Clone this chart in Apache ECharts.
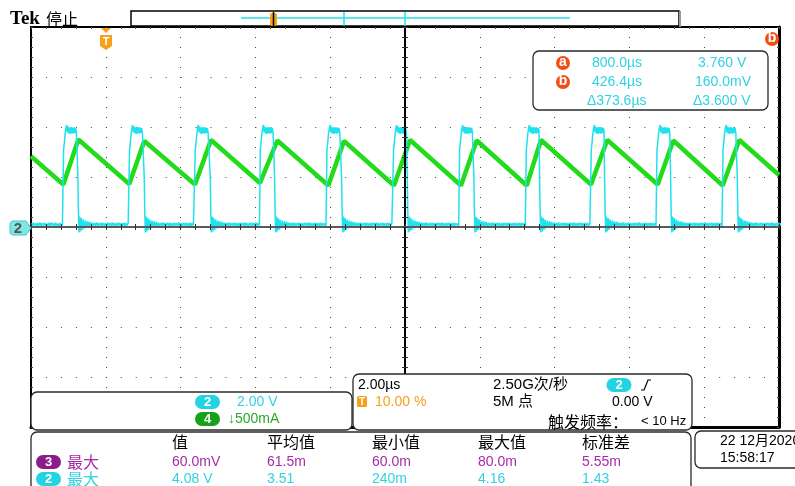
<!DOCTYPE html>
<html>
<head>
<meta charset="utf-8">
<script src="https://cdn.jsdelivr.net/npm/echarts@6/dist/echarts.min.js"></script>
<style>
html, body { margin: 0; padding: 0; background: #fff; }
#scope { width: 795px; height: 486px; }
</style>
</head>
<body>
<div id="scope"></div>
<script>
// horizontal: 10 div x 2.00 µs
const timeMin = 0
const timeMax = 20
// ch2 (2.00 V/div) switching edges, µs
const ch2Rise = [0.864, 2.628, 4.385, 6.123, 7.906, 9.687, 11.452, 13.235, 14.973, 16.730, 18.495]
const ch2Fall = [1.238, 3.013, 4.778, 6.497, 8.289, 10.045, 11.826, 13.583, 15.321, 17.086, 18.869]
// noisy low level before the first edge [µs, V]
const ch2Lead = [[0, 0.14], [0.03, 0.04], [0.06, 0.17], [0.09, 0.06], [0.12, 0.15], [0.15, 0.03], [0.18, 0.16],
  [0.21, 0.05], [0.24, 0.18], [0.27, 0.04], [0.3, 0.15], [0.33, 0.06], [0.36, 0.17], [0.39, 0.03], [0.42, 0.14],
  [0.45, 0.05], [0.48, 0.16], [0.51, 0.04], [0.54, 0.18], [0.57, 0.06], [0.6, 0.15], [0.63, 0.03], [0.66, 0.17],
  [0.69, 0.05], [0.72, 0.14], [0.75, 0.04], [0.78, 0.16], [0.81, 0.02], [0.84, 0.12]]
// pulse top, read from the first pulse [µs after rise, V]
const ch2RiseShape = [[0, 0.1], [0.008, 3.1], [0.03, 3.4], [0.05, 3.75], [0.07, 3.95], [0.09, 4.08], [0.11, 3.78],
  [0.13, 4.02], [0.15, 3.74], [0.17, 3.98], [0.19, 3.72], [0.21, 4.0], [0.23, 3.75], [0.25, 3.98], [0.27, 3.73],
  [0.29, 3.99], [0.31, 3.76], [0.33, 3.96], [0.35, 3.78]]
// fall + ringing + low level [µs after fall, V]
const ch2FallShape = [[0, 3.85], [0.015, 2.0], [0.03, 0.6], [0.045, -0.22], [0.065, 0.42], [0.085, -0.18],
  [0.11, 0.36], [0.135, -0.12], [0.16, 0.3], [0.19, -0.06], [0.22, 0.26], [0.25, -0.02], [0.28, 0.22], [0.31, 0.0],
  [0.34, 0.2], [0.37, 0.03], [0.4, 0.17], [0.43, 0.04], [0.46, 0.16], [0.49, 0.05], [0.52, 0.18], [0.55, 0.03],
  [0.58, 0.15], [0.61, 0.06], [0.64, 0.17], [0.67, 0.04], [0.7, 0.16], [0.73, 0.05], [0.76, 0.15], [0.79, 0.03],
  [0.82, 0.17], [0.85, 0.06], [0.88, 0.16], [0.91, 0.04], [0.94, 0.18], [0.97, 0.05], [1.0, 0.15], [1.03, 0.03],
  [1.06, 0.16], [1.09, 0.06], [1.12, 0.17], [1.15, 0.04], [1.18, 0.15], [1.21, 0.05], [1.24, 0.17], [1.27, 0.03],
  [1.3, 0.16], [1.33, 0.06], [1.36, 0.15], [1.39, 0.04], [1.42, 0.14]]
// ch4 (500 mA/div) inductor current corners
const ch4Time = [0, 0.864, 1.265, 2.628, 3.029, 4.385, 4.813, 6.123, 6.586, 7.95, 8.369, 9.706, 10.134, 11.497,
  11.917, 13.254, 13.636, 14.973, 15.409, 16.757, 17.174, 18.495, 18.939, 20]
const ch4Amp = [0.708, 0.425, 0.875, 0.43, 0.86, 0.425, 0.87, 0.44, 0.865, 0.415, 0.86, 0.415, 0.87, 0.415,
  0.865, 0.415, 0.87, 0.425, 0.87, 0.425, 0.865, 0.415, 0.87, 0.52]

const cyan = '#1fe2ee'
const cyanText = '#30d2e2'
const green = '#22dc1c'
const purple = '#a82aa8'
const orange = '#f5a11c'
const red = '#f04e14'
const gridColor = '#4a4a4a'
const latin = '"Liberation Sans", "Noto Sans CJK SC", sans-serif'
const cjk = '"Noto Sans CJK SC", sans-serif'

let ch2Data = ch2Lead.slice()
for (let i = 0; i < ch2Rise.length; i++) {
  ch2RiseShape.forEach(p => {
    if (ch2Rise[i] + p[0] < ch2Fall[i]) ch2Data.push([ch2Rise[i] + p[0], p[1]])
  })
  let next = i + 1 < ch2Rise.length ? ch2Rise[i + 1] : timeMax + 1
  ch2FallShape.forEach(p => {
    if (ch2Fall[i] + p[0] < next - 0.015) ch2Data.push([ch2Fall[i] + p[0], p[1]])
  })
}
let ch4Data = ch4Time.map((t, i) => [t, ch4Amp[i]])

function txt(text, x, y, fill, font, align) {
  return { type: 'text', z: 60, style: { text: text, x: x, y: y, fill: fill, font: font,
    textAlign: align || 'left', align: align || 'left', textVerticalAlign: 'middle', verticalAlign: 'middle' } }
}
function panel(x, y, w, h) {
  return { type: 'rect', z: 50, shape: { x: x, y: y, width: w, height: h, r: 6 },
    style: { fill: '#fff', stroke: '#2a2a2a', lineWidth: 1.3 } }
}
function pill(num, cx, cy, fill) {
  return [
    { type: 'rect', z: 60, shape: { x: cx - 12.5, y: cy - 7, width: 25, height: 14, r: 7 }, style: { fill: fill } },
    txt(num, cx, cy + 0.5, '#fff', 'bold 13px ' + latin, 'center')
  ]
}
function circ(ch, cx, cy) {
  return [
    { type: 'circle', z: 60, shape: { cx: cx, cy: cy, r: 7 }, style: { fill: red } },
    txt(ch, cx, cy - 1, '#fff', 'bold 14px ' + latin, 'center')
  ]
}
function vline(x, y1, y2, color, w) {
  return { type: 'line', z: 60, shape: { x1: x, y1: y1, x2: x, y2: y2 }, style: { stroke: color, lineWidth: w } }
}

let g = []
// title + record bar
g.push(txt('Tek', 10, 19, '#000', 'bold 19px "Liberation Serif", serif'))
g.push(txt('停止', 46, 19, '#000', '16px ' + cjk))
g.push({ type: 'rect', z: 50, shape: { x: 131, y: 11, width: 548, height: 15 }, style: { fill: '#fff', stroke: '#000', lineWidth: 1.5 } })
g.push(vline(680, 11, 27, '#999', 2))
g.push({ type: 'line', z: 60, shape: { x1: 241, y1: 18, x2: 570, y2: 18 }, style: { stroke: cyan, lineWidth: 1.5 } })
g.push(vline(344, 12, 26, cyan, 1.5))
g.push(vline(405, 12, 26, cyan, 1.5))
g.push({ type: 'rect', z: 60, shape: { x: 270, y: 13, width: 7, height: 13, r: 2 }, style: { fill: orange } })
g.push(vline(273.5, 12, 27, '#000', 1.5))
// trigger position marker
g.push({ type: 'polygon', z: 60, shape: { points: [[101, 28], [111, 28], [106, 33]] }, style: { fill: orange } })
g.push({ type: 'polygon', z: 60, shape: { points: [[100, 35], [112, 35], [112, 46], [106, 50], [100, 46]] }, style: { fill: orange } })
g.push(txt('T', 106, 41.5, '#fff', 'bold 11px ' + latin, 'center'))
// ch2 ground marker
g.push({ type: 'polygon', z: 60, shape: { points: [[12, 221], [26, 221], [31, 228], [26, 235], [12, 235], [10, 233], [10, 223]] },
  style: { fill: '#80e6e6', stroke: '#4cc4c4', lineWidth: 1 } })
g.push(txt('2', 18, 228.5, '#555', 'bold 15px ' + latin, 'center'))
// cursor b off the right edge
g.push(...circ('b', 772, 39))
g.push({ type: 'rect', z: 61, shape: { x: 781, y: 30, width: 14, height: 20 }, style: { fill: '#fff' } })
// cursor readout
g.push(panel(533, 51, 235, 59))
g.push(...circ('a', 563, 63))
g.push(...circ('b', 563, 82))
g.push(txt('800.0µs', 592, 63, cyanText, '14px ' + latin))
g.push(txt('3.760 V', 698, 63, cyanText, '14px ' + latin))
g.push(txt('426.4µs', 592, 82, cyanText, '14px ' + latin))
g.push(txt('160.0mV', 695, 82, cyanText, '14px ' + latin))
g.push(txt('Δ373.6µs', 587, 101, cyanText, '14px ' + latin))
g.push(txt('Δ3.600 V', 693, 101, cyanText, '14px ' + latin))
// channel scale panel
g.push(panel(31, 392, 321, 38))
g.push(...pill('2', 207.5, 402, '#22d4e2'))
g.push(txt('2.00 V', 237, 402, cyanText, '14px ' + latin))
g.push(...pill('4', 207.5, 419, '#18a018'))
g.push(txt('↓500mA', 228, 419, '#2aa82a', '14px ' + latin))
// timebase / trigger panel
g.push(panel(353, 374, 339, 56))
g.push(txt('2.00µs', 358, 385, '#000', '14px ' + latin))
g.push({ type: 'rect', z: 60, shape: { x: 357, y: 396, width: 10, height: 11, r: 1.5 }, style: { fill: orange } })
g.push(txt('T', 362, 402, '#fff', 'bold 10px ' + latin, 'center'))
g.push(txt('10.00 %', 375, 402, orange, '14px ' + latin))
g.push(txt('2.50G次/秒', 493, 385, '#000', '15px ' + latin))
g.push(txt('5M 点', 493, 402, '#000', '15px ' + latin))
g.push(...pill('2', 619, 385, '#22d4e2'))
g.push({ type: 'polyline', z: 60, shape: { points: [[641, 390], [644, 390], [648, 380], [651, 380]] }, style: { stroke: '#000', lineWidth: 1.2, fill: null } })
g.push(txt('0.00 V', 612, 402, '#000', '14px ' + latin))
g.push(txt('触发频率：', 548, 422, '#000', '16px ' + cjk))
g.push(txt('< 10 Hz', 641, 421, '#000', '13px ' + latin))
// measurement table
g.push(panel(31, 432, 660, 70))
const headX = [172, 267, 372, 478, 582]
const heads = ['值', '平均值', '最小值', '最大值', '标准差']
const row3 = ['60.0mV', '61.5m', '60.0m', '80.0m', '5.55m']
const row2 = ['4.08 V', '3.51', '240m', '4.16', '1.43']
heads.forEach((h, i) => g.push(txt(h, headX[i], 442, '#000', '16px ' + cjk)))
g.push(...pill('3', 48.5, 462, '#8c1c8c'))
g.push(txt('最大', 67, 462, purple, '16px ' + cjk))
row3.forEach((v, i) => g.push(txt(v, headX[i], 462, purple, '14px ' + latin)))
g.push(...pill('2', 48.5, 479, '#22d4e2'))
g.push(txt('最大', 67, 479, cyanText, '16px ' + cjk))
row2.forEach((v, i) => g.push(txt(v, headX[i], 479, cyanText, '14px ' + latin)))
// date
g.push(panel(695, 431, 120, 37))
g.push(txt('22 12月2020', 720, 441, '#000', '14px ' + latin))
g.push(txt('15:58:17', 720, 458, '#000', '14px ' + latin))

const chart = echarts.init(document.getElementById('scope'))
const valueX = { type: 'value', min: timeMin, max: timeMax, interval: 2, axisLabel: { show: false }, splitLine: { show: false } }
const valueY = { type: 'value', min: -8, max: 8, interval: 2, axisLabel: { show: false }, splitLine: { show: false } }
chart.setOption({
  animation: false,
  backgroundColor: '#fff',
  grid: { left: 31, top: 27, width: 748, height: 400 },
  xAxis: [
    Object.assign({}, valueX, {
      position: 'bottom',
      axisLine: { onZero: false, lineStyle: { color: '#000', width: 3 } },
      axisTick: { show: false },
      splitLine: { show: true, lineStyle: { color: gridColor, width: 1, type: [1, 9] } }
    }),
    Object.assign({}, valueX, {
      position: 'top',
      axisLine: { onZero: false, lineStyle: { color: '#000', width: 2 } },
      axisTick: { show: true, inside: true, length: 2, lineStyle: { color: gridColor } },
      minorTick: { show: true, splitNumber: 5, length: 2, lineStyle: { color: gridColor } }
    }),
    // centre line, ticks down
    Object.assign({}, valueX, {
      position: 'bottom', offset: -200, z: 5,
      axisLine: { onZero: false, lineStyle: { color: '#5a5a5a', width: 2 } },
      axisTick: { show: true, length: 3, lineStyle: { color: '#333' } },
      minorTick: { show: true, splitNumber: 5, length: 3, lineStyle: { color: '#333' } }
    }),
    // centre line, ticks up
    Object.assign({}, valueX, {
      position: 'top', offset: -200, z: 5,
      axisLine: { show: false, onZero: false },
      axisTick: { show: true, length: 3, lineStyle: { color: '#333' } },
      minorTick: { show: true, splitNumber: 5, length: 3, lineStyle: { color: '#333' } }
    })
  ],
  yAxis: [
    Object.assign({}, valueY, {
      position: 'left',
      axisLine: { onZero: false, lineStyle: { color: '#000', width: 2 } },
      axisTick: { show: true, inside: true, length: 2, lineStyle: { color: gridColor } },
      minorTick: { show: true, splitNumber: 5, length: 2, lineStyle: { color: gridColor } },
      splitLine: { show: true, lineStyle: { color: gridColor, width: 1, type: [1, 13.96] } }
    }),
    { type: 'value', min: -2, max: 2, show: false },
    Object.assign({}, valueY, {
      position: 'left', offset: -374, z: 5,
      axisLine: { onZero: false, lineStyle: { color: '#000', width: 2 } },
      axisTick: { show: true, length: 3, lineStyle: { color: '#333' } },
      minorTick: { show: true, splitNumber: 5, length: 3, lineStyle: { color: '#333' } }
    }),
    Object.assign({}, valueY, {
      position: 'right', offset: -374, z: 5,
      axisLine: { show: false, onZero: false },
      axisTick: { show: true, length: 3, lineStyle: { color: '#333' } },
      minorTick: { show: true, splitNumber: 5, length: 3, lineStyle: { color: '#333' } }
    }),
    Object.assign({}, valueY, {
      position: 'right',
      axisLine: { onZero: false, lineStyle: { color: '#000', width: 3 } },
      axisTick: { show: true, inside: true, length: 2, lineStyle: { color: gridColor } },
      minorTick: { show: true, splitNumber: 5, length: 2, lineStyle: { color: gridColor } }
    })
  ],
  series: [
    {
      name: 'CH4', type: 'line', xAxisIndex: 0, yAxisIndex: 1, data: ch4Data,
      symbol: 'none', z: 2, lineStyle: { color: green, width: 4.5 }
    },
    {
      name: 'CH2', type: 'line', xAxisIndex: 0, yAxisIndex: 0, data: ch2Data,
      symbol: 'none', z: 3, lineStyle: { color: cyan, width: 1.5 }
    }
  ],
  graphic: g
})
</script>
</body>
</html>
